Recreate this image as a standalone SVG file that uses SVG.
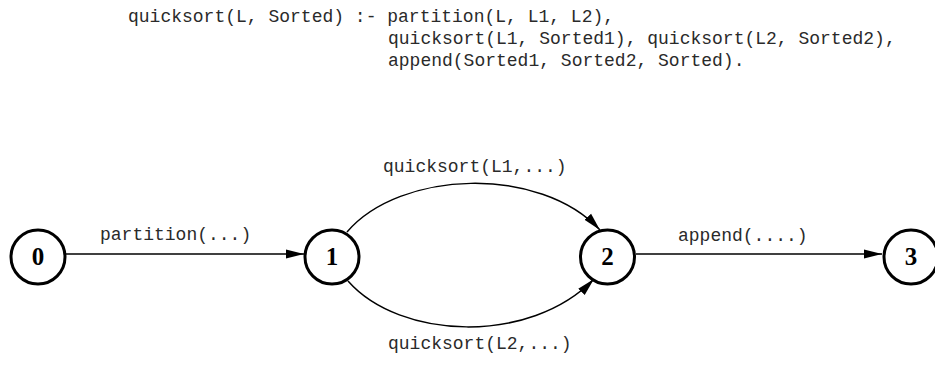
<svg xmlns="http://www.w3.org/2000/svg" width="935" height="367" viewBox="0 0 935 367">
<style>
.code{font-family:"Liberation Mono","Courier New",monospace;font-size:18px;fill:#2a2a2a}
.node circle{fill:#fff;stroke:#000;stroke-width:3}
.node text{font-family:"Liberation Serif","Times New Roman",serif;font-weight:bold;font-size:25px;fill:#000;text-anchor:middle}
.edge{fill:none;stroke:#000;stroke-width:1.5;marker-end:url(#arr)}
</style>
<defs>
<marker id="arr" markerUnits="userSpaceOnUse" markerWidth="20" markerHeight="12" refX="18" refY="5" orient="auto" viewBox="0 0 20 10">
<path d="M0,0.5 L18,5 L0,9.5 Z" fill="#000"/>
</marker>
</defs>
<rect width="935" height="367" fill="#fff"/>
<g id="code">
<text class="code" x="128" y="22" xml:space="preserve">quicksort(L, Sorted) :- partition(L, L1, L2),</text>
<text class="code" x="388" y="44" xml:space="preserve">quicksort(L1, Sorted1), quicksort(L2, Sorted2),</text>
<text class="code" x="388" y="66" xml:space="preserve">append(Sorted1, Sorted2, Sorted).</text>
</g>
<g id="connectors">
<path class="edge" d="M66,254 L304,254"/>
<path class="edge" d="M347,232 C400,170 540,165 600,230"/>
<path class="edge" d="M348,281 C400,340 530,345 594,279"/>
<path class="edge" d="M636,254 L882,254"/>
<text class="code" x="100" y="240">partition(...)</text>
<text class="code" x="383" y="172">quicksort(L1,...)</text>
<text class="code" x="388" y="349">quicksort(L2,...)</text>
<text class="code" x="678" y="241">append(....)</text>
</g>
<g id="node0" class="node"><circle cx="38" cy="257" r="27"/><text x="38" y="265">0</text></g>
<g id="node1" class="node"><circle cx="332" cy="257" r="27"/><text x="332" y="265">1</text></g>
<g id="node2" class="node"><circle cx="607.5" cy="257" r="27"/><text x="607.5" y="265">2</text></g>
<g id="node3" class="node"><circle cx="911" cy="257" r="27"/><text x="911" y="265">3</text></g>
</svg>
